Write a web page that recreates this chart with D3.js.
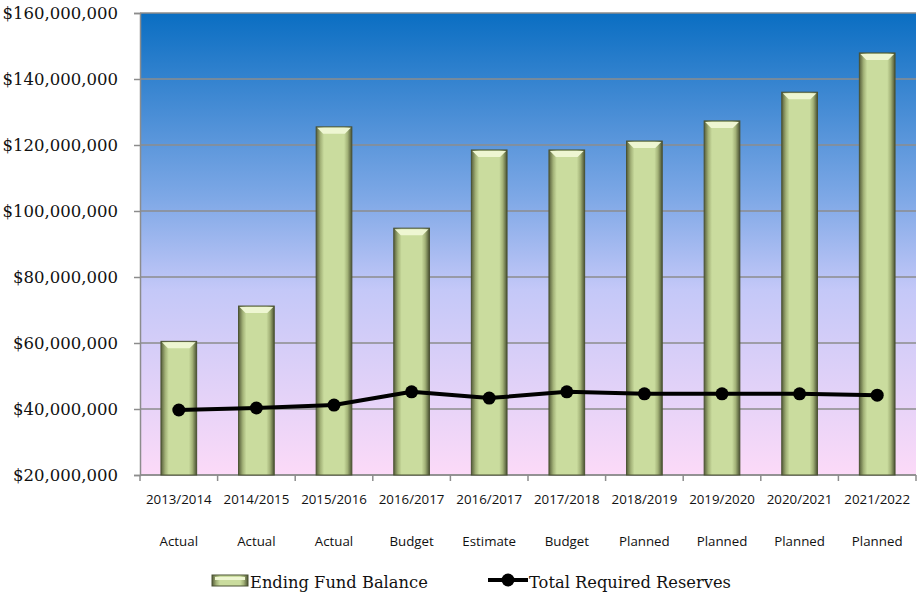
<!DOCTYPE html>
<html>
<head>
<meta charset="utf-8">
<script src="https://d3js.org/d3.v7.min.js"></script>
<style>
  body { margin: 0; background: #fff; }
</style>
</head>
<body>
<div id="chart"></div>
<script>
// Chart data
var years = ["2013/2014", "2014/2015", "2015/2016", "2016/2017", "2016/2017",
             "2017/2018", "2018/2019", "2019/2020", "2020/2021", "2021/2022"];
var kinds = ["Actual", "Actual", "Actual", "Budget", "Estimate",
             "Budget", "Planned", "Planned", "Planned", "Planned"];
var fundBalance = [60.5e6, 71.2e6, 125.5e6, 94.8e6, 118.5e6,
                   118.5e6, 121.2e6, 127.3e6, 136e6, 147.9e6];
var reserves = [39.7e6, 40.3e6, 41.2e6, 45.2e6, 43.3e6,
                45.2e6, 44.6e6, 44.6e6, 44.6e6, 44.2e6];
var yTicks = [20e6, 40e6, 60e6, 80e6, 100e6, 120e6, 140e6, 160e6];

// Set graph margins and dimensions
var margin = {top: 13, right: 2, bottom: 120, left: 140},
    width = 918 - margin.left - margin.right,
    height = 595 - margin.top - margin.bottom;

var idx = d3.range(years.length);

var x = d3.scaleBand()
          .domain(idx)
          .range([0, width]);

var y = d3.scaleLinear()
          .domain([20e6, 160e6])
          .range([height, 0]);

var svg = d3.select("#chart").append("svg")
    .attr("width", 918)
    .attr("height", 595);

var defs = svg.append("defs");

var bg = defs.append("linearGradient")
    .attr("id", "bg").attr("x1", 0).attr("y1", 0).attr("x2", 0).attr("y2", 1);
bg.append("stop").attr("offset", "0%").attr("stop-color", "#0a6ec2");
bg.append("stop").attr("offset", "40%").attr("stop-color", "#7ea8e6");
bg.append("stop").attr("offset", "60%").attr("stop-color", "#c4c8f8");
bg.append("stop").attr("offset", "100%").attr("stop-color", "#fcdaf8");

var barGrad = defs.append("linearGradient")
    .attr("id", "barGrad").attr("x1", 0).attr("y1", 0).attr("x2", 1).attr("y2", 0);
barGrad.append("stop").attr("offset", "0%").attr("stop-color", "#565e3a");
barGrad.append("stop").attr("offset", "12%").attr("stop-color", "#a3b278");
barGrad.append("stop").attr("offset", "22%").attr("stop-color", "#cadc9e");
barGrad.append("stop").attr("offset", "78%").attr("stop-color", "#cadc9e");
barGrad.append("stop").attr("offset", "88%").attr("stop-color", "#a3b278");
barGrad.append("stop").attr("offset", "100%").attr("stop-color", "#4a5232");

var g = svg.append("g")
    .attr("transform", "translate(" + margin.left + "," + margin.top + ")");

// Background
g.append("rect")
    .attr("width", width)
    .attr("height", height)
    .attr("fill", "url(#bg)");

// Gridlines
g.selectAll(".grid")
    .data(yTicks)
  .enter().append("line")
    .attr("x1", 0).attr("x2", width)
    .attr("y1", function(d) { return y(d); })
    .attr("y2", function(d) { return y(d); })
    .attr("stroke", "#8c8c8c")
    .attr("stroke-width", 1.5);

// Y axis
var yAxis = g.append("g")
    .call(d3.axisLeft(y).tickValues(yTicks).tickSize(6).tickPadding(16)
      .tickFormat(function(d) { return "$" + d3.format(",")(d); }));
yAxis.select(".domain").attr("stroke", "#8c8c8c").attr("stroke-width", 1.5);
yAxis.selectAll(".tick line").attr("stroke", "#8c8c8c").attr("stroke-width", 1.5);
yAxis.selectAll("text")
    .attr("fill", "#111")
    .style("font-size", "16.5px")
    .style("font-family", "'DejaVu Serif', serif")
    .attr("dy", "0.35em");

// X axis ticks at band boundaries
var xAxis = g.append("g")
    .attr("transform", "translate(0," + height + ")");
xAxis.append("line")
    .attr("x1", 0).attr("x2", width)
    .attr("stroke", "#8c8c8c").attr("stroke-width", 1.5);
xAxis.selectAll(".xt")
    .data(d3.range(years.length + 1))
  .enter().append("line")
    .attr("x1", function(i) { return i * x.bandwidth(); })
    .attr("x2", function(i) { return i * x.bandwidth(); })
    .attr("y1", 0).attr("y2", 6)
    .attr("stroke", "#8c8c8c").attr("stroke-width", 1.5);

xAxis.selectAll(".yr")
    .data(idx)
  .enter().append("text")
    .attr("x", function(i) { return x(i) + x.bandwidth() / 2; })
    .attr("y", 29)
    .attr("text-anchor", "middle")
    .style("font-family", "'Open Sans', sans-serif")
    .style("font-size", "13.3px")
    .attr("fill", "#111")
    .text(function(i) { return years[i]; });

xAxis.selectAll(".kind")
    .data(idx)
  .enter().append("text")
    .attr("x", function(i) { return x(i) + x.bandwidth() / 2; })
    .attr("y", 71)
    .attr("text-anchor", "middle")
    .style("font-family", "'Open Sans', sans-serif")
    .style("font-size", "13.3px")
    .attr("fill", "#111")
    .text(function(i) { return kinds[i]; });

// Bars
var barW = x.bandwidth() * 0.46;
var bars = g.selectAll(".bar")
    .data(idx)
  .enter().append("g")
    .attr("class", "bar");

bars.append("rect")
    .attr("x", function(i) { return x(i) + (x.bandwidth() - barW) / 2; })
    .attr("y", function(i) { return y(fundBalance[i]); })
    .attr("width", barW)
    .attr("height", function(i) { return height - y(fundBalance[i]); })
    .attr("fill", "url(#barGrad)")
    .attr("stroke", "#4a5232")
    .attr("stroke-width", 1);

// Top bevel highlight
bars.append("path")
    .attr("d", function(i) {
      var x0 = x(i) + (x.bandwidth() - barW) / 2, y0 = y(fundBalance[i]), b = 7;
      return "M" + (x0 + 1) + "," + (y0 + 1) +
             "L" + (x0 + barW - 1) + "," + (y0 + 1) +
             "L" + (x0 + barW - b) + "," + (y0 + b) +
             "L" + (x0 + b) + "," + (y0 + b) + "Z";
    })
    .attr("fill", "#eef6d2");

// Reserves line
var line = d3.line()
    .x(function(d, i) { return x(i) + x.bandwidth() / 2; })
    .y(function(d) { return y(d); });

g.append("path")
    .datum(reserves)
    .attr("fill", "none")
    .attr("stroke", "#000")
    .attr("stroke-width", 4)
    .attr("stroke-linejoin", "round")
    .attr("d", line);

g.selectAll(".dot")
    .data(reserves)
  .enter().append("circle")
    .attr("cx", function(d, i) { return x(i) + x.bandwidth() / 2; })
    .attr("cy", function(d) { return y(d); })
    .attr("r", 6.5)
    .attr("fill", "#000");

// Legend
var legend = svg.append("g");
legend.append("rect")
    .attr("x", 212).attr("y", 575).attr("width", 36).attr("height", 11)
    .attr("fill", "url(#barGrad)")
    .attr("stroke", "#4a5232");
legend.append("rect")
    .attr("x", 215).attr("y", 577).attr("width", 30).attr("height", 3)
    .attr("fill", "#eef6d2");
legend.append("text")
    .attr("x", 250).attr("y", 588)
    .style("font-family", "'DejaVu Serif', serif")
    .style("font-size", "16.3px")
    .attr("fill", "#111")
    .text("Ending Fund Balance");

legend.append("line")
    .attr("x1", 488).attr("x2", 528).attr("y1", 580).attr("y2", 580)
    .attr("stroke", "#000").attr("stroke-width", 4);
legend.append("circle")
    .attr("cx", 508).attr("cy", 580).attr("r", 6.5).attr("fill", "#000");
legend.append("text")
    .attr("x", 529).attr("y", 588)
    .style("font-family", "'DejaVu Serif', serif")
    .style("font-size", "16.3px")
    .attr("fill", "#111")
    .text("Total Required Reserves");
</script>
</body>
</html>
